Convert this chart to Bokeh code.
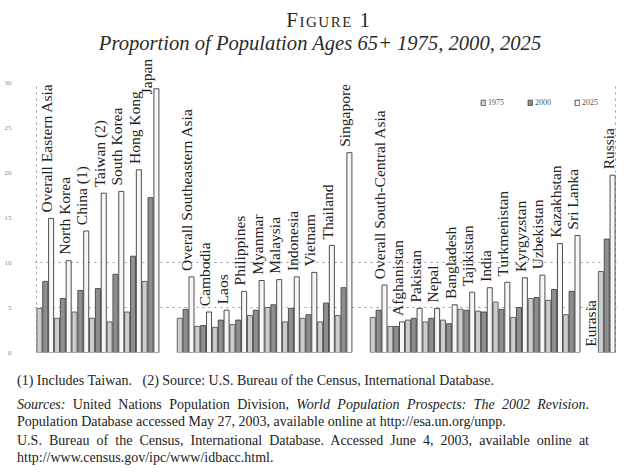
import math
from bokeh.plotting import figure
from bokeh.layouts import column
from bokeh.models import (ColumnDataSource, Range1d, FixedTicker, LabelSet,
                          Legend, LegendItem, Div)
from bokeh.embed import file_html
from bokeh.resources import INLINE

NAN = float("nan")

# ---------------- data (percent of population aged 65+) ----------------
countries = ["Overall Eastern Asia", "North Korea", "China (1)", "Taiwan (2)",
             "South Korea", "Hong Kong", "Japan",
             "Overall Southeastern Asia", "Cambodia", "Laos", "Philippines",
             "Myanmar", "Malaysia", "Indonesia", "Vietnam", "Thailand", "Singapore",
             "Overall South-Central Asia", "Afghanistan", "Pakistan", "Nepal",
             "Bangladesh", "Tajikistan", "India", "Turkmenistan", "Kyrgyzstan",
             "Uzbekistan", "Kazakhstan", "Sri Lanka",
             "Eurasia", "Russia"]
regions = (["Eastern Asia"] * 7 + ["Southeastern Asia"] * 10 +
           ["South-Central Asia"] * 12 + ["Eurasia"] * 2)
years = ["1975", "2000", "2025"]
pct_1975 = [4.9, 3.8, 4.5, 3.8, 3.4, 4.5, 7.9,
            3.8, 2.9, 2.8, 3.1, 4.1, 5.0, 3.4, 3.8, 3.4, 4.1,
            3.9, 2.9, 3.6, 3.4, 3.6, 4.8, 4.6, 5.6, 3.9, 6.0, 5.8, 4.2,
            NAN, 9.0]
pct_2000 = [7.9, 6.0, 6.9, 7.1, 8.7, 10.7, 17.2,
            4.8, 3.0, 3.6, 3.6, 4.7, 5.3, 4.9, 4.2, 5.5, 7.2,
            4.7, 2.9, 3.8, 3.8, 3.2, 4.7, 4.5, 4.8, 5.0, 6.1, 7.0, 6.8,
            NAN, 12.6]
pct_2025 = [14.9, 10.2, 13.5, 17.7, 17.9, 20.3, 29.3,
            8.4, 4.5, 4.7, 6.8, 8.0, 8.1, 8.4, 8.9, 11.9, 22.2,
            7.5, 3.4, 4.9, 4.9, 5.3, 6.7, 7.2, 7.8, 8.3, 8.6, 12.1, 13.0,
            NAN, 19.7]
y_ticks = [0, 5, 10, 15, 20, 25, 30]
grid_ticks = [5, 10]

title_top = "Figure 1"
title_main = "Proportion of Population Ages 65+ 1975, 2000, 2025"
note_1 = "(1) Includes Taiwan.&nbsp;&nbsp;&nbsp;(2) Source: U.S. Bureau of the Census, International Database."
note_2 = ("<i>Sources:</i> United Nations Population Division, "
          "<i>World Population Prospects: The 2002 Revision</i>.")
note_3 = "Population Database accessed May 27, 2003, available online at http://esa.un.org/unpp."
note_4 = "U.S. Bureau of the Census, International Database. Accessed June 4, 2003, available online at"
note_5 = "http://www.census.gov/ipc/www/idbacc.html."

# ---------------- slot layout: one slot per bar, a blank group between regions ----------
GAP = 3
starts = []
pos = 0
prev = None
for reg, v in zip(regions, pct_2025):
    if prev is not None and reg != prev and not math.isnan(v):
        pos += GAP
    starts.append(pos)
    pos += 3
    prev = reg
N_SLOTS = pos

series = [pct_1975, pct_2000, pct_2025]
sources = []
for k, vals in enumerate(series):
    xs = [s + k + 0.5 for s, v in zip(starts, vals) if not math.isnan(v)]
    tops = [v for v in vals if not math.isnan(v)]
    sources.append(ColumnDataSource(dict(x=xs, top=tops)))

# ---------------- geometry (page pixels; the Bokeh page has no body margin) -----------
W = 640
TITLE_H = 56
FIG_TOP = TITLE_H                      # 56
X_SLOT0, X_SLOTN = 36, 615             # slot 0 and slot N on the page
Y_ZERO, Y_30 = 352, 82                 # value 0 and 30 on the page
NOTES_TOP = 366
NOTES_H = 106
px_per_slot = (X_SLOTN - X_SLOT0) / N_SLOTS
px_per_unit = (Y_ZERO - Y_30) / 30.0
FRAME_L, FRAME_R = 34, 617
x_lo = -(X_SLOT0 - FRAME_L) / px_per_slot
x_hi = N_SLOTS + (FRAME_R - X_SLOTN) / px_per_slot
y_hi = 30 + (Y_30 - FIG_TOP) / px_per_unit
FIG_H = NOTES_TOP - FIG_TOP

p = figure(width=W, height=FIG_H, output_backend="svg", toolbar_location=None,
           x_range=Range1d(x_lo, x_hi), y_range=Range1d(0, y_hi),
           min_border_left=FRAME_L, min_border_right=W - FRAME_R,
           min_border_top=0, min_border_bottom=NOTES_TOP - Y_ZERO)
p.outline_line_color = None
p.background_fill_color = "white"
p.border_fill_color = "white"

p.xaxis.visible = False
p.xgrid.visible = False
p.ygrid.ticker = FixedTicker(ticks=grid_ticks)
p.ygrid.grid_line_color = "#9a9a9a"
p.ygrid.grid_line_dash = "dotted"
p.ygrid.grid_line_width = 1

ax = p.yaxis[0]
ax.ticker = FixedTicker(ticks=y_ticks)
ax.major_label_text_font = "Liberation Serif"
ax.major_label_text_font_size = "7px"
ax.major_label_text_color = "#8c8c8c"
ax.major_tick_line_color = None
ax.minor_tick_line_color = None
ax.axis_line_color = None
ax.major_label_standoff = 17

# dotted frame lines at both ends of the value axis (0 .. 30)
p.segment(x0=[0, N_SLOTS], y0=[y_ticks[0]] * 2, x1=[0, N_SLOTS], y1=[y_ticks[-1]] * 2,
          line_color="#9a9a9a", line_dash="dotted", line_width=1)

styles = [
    dict(fill_color="#cdcdcd", line_color="#555555"),
    dict(fill_color="#8e8e8e", line_color="#454545"),
    dict(fill_color="#f7f7f7", line_color="#3c3c3c"),
]
renderers = []
for src, st in zip(sources, styles):
    r = p.vbar(x="x", top="top", bottom=0, width=0.86, source=src,
               line_width=0.9, **st)
    renderers.append(r)

# ---------------- group labels ----------------
lx, ly, ltxt = [], [], []
for name, s, v in zip(countries, starts, pct_2025):
    top = 0.0 if math.isnan(v) else v
    if top > 26:            # too close to the top: tucked beside the tallest bar
        lx.append(s + 1.5)
        ly.append(top - 0.6)
    else:
        lx.append(s + 2.5)
        ly.append(top + 0.65)
    ltxt.append(name)
lab_src = ColumnDataSource(dict(x=lx, y=ly, text=ltxt))
p.add_layout(LabelSet(x="x", y="y", text="text", source=lab_src, angle=math.pi / 2,
                      x_offset=1, text_align="left", text_baseline="alphabetic",
                      text_font="Liberation Serif", text_font_size="15.5px",
                      text_color="#222222"))

# ---------------- legend ----------------
legend = Legend(items=[LegendItem(label=y, renderers=[r]) for y, r in zip(years, renderers)],
                orientation="horizontal", location=(480 - FRAME_L, Y_ZERO - 103 - 4),
                glyph_width=6, glyph_height=7, label_standoff=2, label_width=16,
                label_height=8, spacing=23, padding=0, margin=0,
                border_line_alpha=0, background_fill_alpha=0,
                label_text_font="Liberation Serif", label_text_font_size="8px",
                label_text_color="#555555")
p.add_layout(legend)

# ---------------- title and notes ----------------
title_html = (
    "<div style=\"width:%dpx; text-align:center; font-family:'Liberation Serif'; "
    "color:#2a2a2a; padding-top:9px;\">"
    "<div style=\"font-size:21px; line-height:22px; height:22px; font-variant:small-caps; "
    "letter-spacing:1.5px; padding-left:18px;\">%s</div>"
    "<div style=\"font-size:20.6px; line-height:25px; height:25px; font-style:italic;\">%s</div>"
    "</div>" % (W, title_top, title_main))
title_div = Div(text=title_html, width=W, height=TITLE_H, margin=(0, 0, 0, 0))

line = "line-height:17px; height:17px;"
just = "text-align:justify; text-align-last:justify;"
notes_html = (
    "<div style=\"width:606px; padding:6px 17px 0 17px; font-family:'Liberation Serif'; "
    "font-size:14px; color:#222222;\">"
    "<div style=\"%s white-space:nowrap;\">%s</div>"
    "<div style=\"%s margin-top:7px; %s\">%s</div>"
    "<div style=\"%s white-space:nowrap;\">%s</div>"
    "<div style=\"%s margin-top:2px; %s\">%s</div>"
    "<div style=\"%s white-space:nowrap;\">%s</div>"
    "</div>" % (line, note_1, line, just, note_2, line, note_3, line, just, note_4,
                line, note_5))
notes_div = Div(text=notes_html, width=W, height=NOTES_H, margin=(0, 0, 0, 0))

layout = column(title_div, p, notes_div, spacing=0)
open("out.html", "w").write(file_html(layout, INLINE))
